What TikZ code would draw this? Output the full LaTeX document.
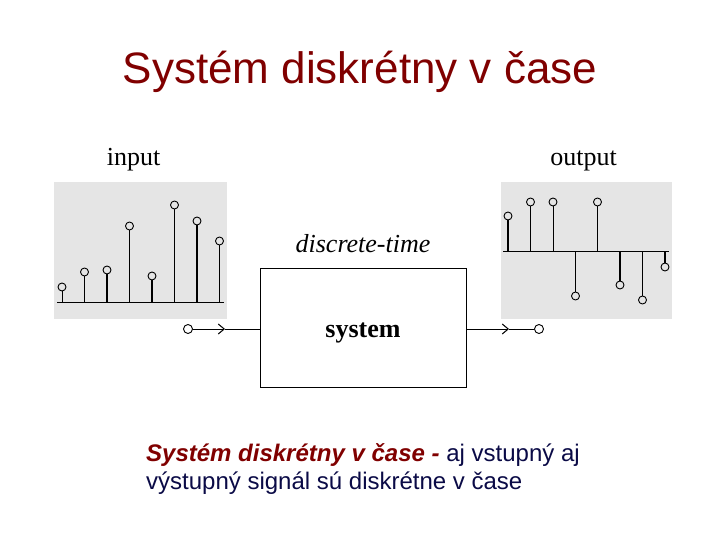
\documentclass[tikz,border=0pt]{standalone}
\usepackage{fontspec}
\setmainfont{Liberation Serif}
\newfontfamily\slidefont{Liberation Sans}
\usetikzlibrary{arrows.meta,positioning}
\definecolor{titlered}{RGB}{128,0,0}
\definecolor{textnavy}{RGB}{10,10,70}
\definecolor{panelgray}{RGB}{229,229,229}

\begin{document}
\begin{tikzpicture}[x=1pt,y=-1pt,
    every node/.style={inner sep=0pt},
    panel/.style={fill=panelgray, draw=none},
    sample/.style={circle, draw, line width=0.9pt, fill=panelgray, minimum size=8pt},
    port/.style={circle, draw, line width=0.9pt, fill=white, minimum size=9pt},
    block/.style={rectangle, draw, line width=1pt, minimum width=206pt, minimum height=119pt},
    arrow/.style={-{Straight Barb[length=6pt,width=10pt,line width=1pt]}, line width=0.9pt},
    sigtext/.style={font=\fontsize{26}{30}\selectfont, anchor=base},
    slidetext/.style={font=\slidefont\fontsize{24}{28}\selectfont, text=textnavy, anchor=base west},
]
\useasboundingbox (0,0) rectangle (720,540);

% Title
\node[font=\slidefont\fontsize{44}{50}\selectfont, text=titlered, anchor=base] (title) at (360,84) {Systém diskrétny v čase};

% Input signal
\fill[panel] (54,182) rectangle (227,319);
\node[sigtext] (inlabel) at (133.5,166) {input};
\coordinate (inaxisL) at (57,302);
\coordinate (inaxisR) at (224,302);
\draw[line width=0.9pt] (inaxisL) -- (inaxisR);
\foreach \x/\y/\w [count=\i] in {62/287/0.9, 84.5/272/0.9, 107/270/1.9, 129.5/226/0.9,
    152/276/1.9, 174.5/205/0.9, 197/221/1.9, 219.5/241/0.9} {
  \coordinate (inbase\i) at (\x,302);
  \node[sample] (in\i) at (\x,\y) {};
  \draw[line width=\w pt] (inbase\i) -- (in\i.south);
}

% Output signal
\fill[panel] (501,182) rectangle (672,319);
\node[sigtext] (outlabel) at (583.5,166) {output};
\coordinate (outaxisL) at (503,251);
\coordinate (outaxisR) at (669,251);
\draw[line width=0.9pt] (outaxisL) -- (outaxisR);
\foreach \x/\y/\w/\s [count=\i] in {508/216/1.9/south, 530.5/202/1.9/south, 553/202/0.9/south,
    575.5/296/1.9/north, 597.5/202/0.9/south, 620/285/1.9/north, 642.5/300/0.9/north,
    665/267/1.9/north} {
  \coordinate (outbase\i) at (\x,251);
  \node[sample] (out\i) at (\x,\y) {};
  \draw[line width=\w pt] (outbase\i) -- (out\i.\s);
}

% System block
\node[sigtext] (dtlabel) at (363,252) {\itshape discrete-time};
\node[block] (sys) at (363,328) {\raisebox{-5pt}[\height][\depth]{\fontsize{26}{30}\selectfont\bfseries system}};

% Ports and connectors
\node[port] (inport) at (188,329) {};
\node[port] (outport) at (539,329) {};
\coordinate (inmid) at (225,329);
\coordinate (outmid) at (509,329);
\draw[arrow] (inport) -- (inmid);
\draw[line width=0.9pt] (inmid) -- (sys.west |- inmid);
\draw[arrow] (sys.east |- outmid) -- (outmid);
\draw[line width=0.9pt] (outmid) -- (outport);

% Caption
\node[slidetext] (cap1) at (146,461) {{\bfseries\itshape\color{titlered}Systém diskrétny v čase -} aj vstupný aj};
\node[slidetext] (cap2) at (146,489) {výstupný signál sú diskrétne v čase};

\end{tikzpicture}
\end{document}
